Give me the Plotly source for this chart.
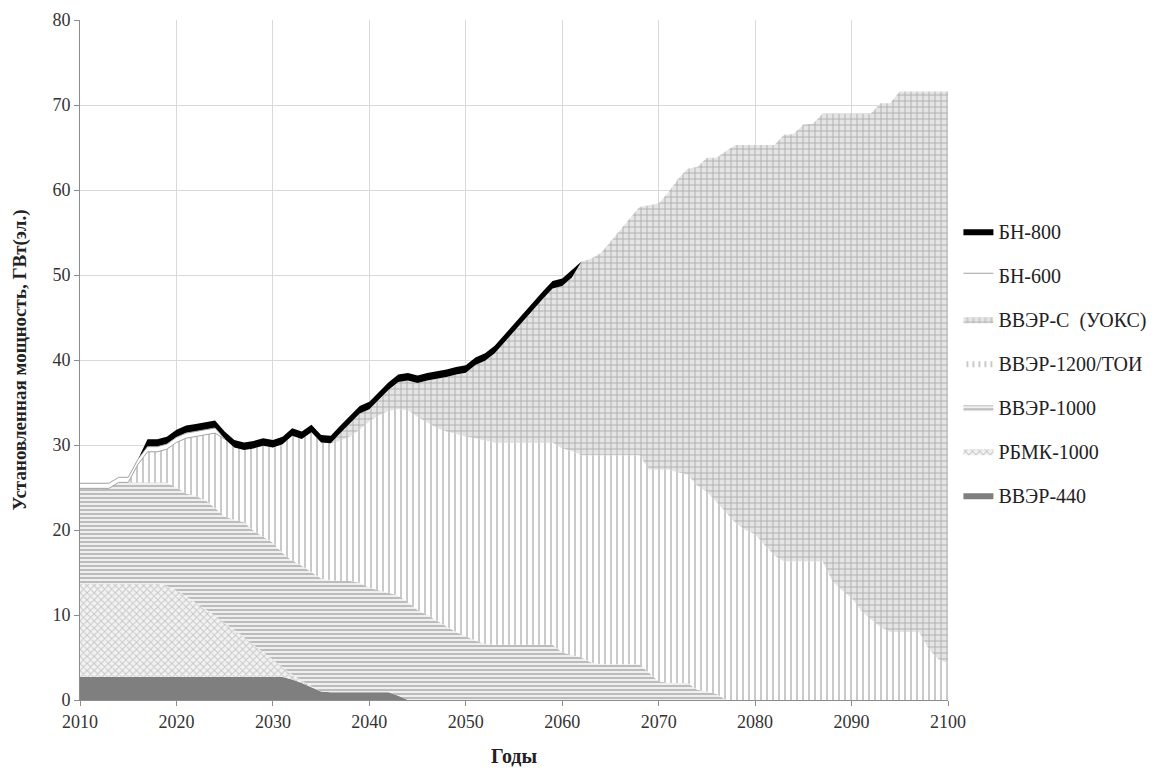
import plotly.graph_objects as go

years = list(range(2010, 2101))

vver440 = [2.7, 2.7, 2.7, 2.7, 2.7, 2.7, 2.7, 2.7, 2.7, 2.7,
           2.7, 2.7, 2.7, 2.7, 2.7, 2.7, 2.7, 2.7, 2.7, 2.7,
           2.7, 2.7, 2.4, 2.0, 1.5, 1.0, 0.9, 0.9, 0.9, 0.9,
           0.9, 0.9, 0.9, 0.5, 0, 0, 0, 0, 0, 0,
           0, 0, 0, 0, 0, 0, 0, 0, 0, 0,
           0, 0, 0, 0, 0, 0, 0, 0, 0, 0,
           0, 0, 0, 0, 0, 0, 0, 0, 0, 0,
           0, 0, 0, 0, 0, 0, 0, 0, 0, 0,
           0, 0, 0, 0, 0, 0, 0, 0, 0, 0, 0]

rbmk = [11.0, 11.0, 11.0, 11.0, 11.0, 11.0, 11.0, 11.0, 11.0, 10.7,
        10.2, 9.5, 8.8, 8.0, 7.2, 6.4, 5.6, 4.7, 3.8, 2.9,
        2.0, 1.1, 0.6, 0.3, 0.1, 0, 0, 0, 0, 0,
        0, 0, 0, 0, 0, 0, 0, 0, 0, 0,
        0, 0, 0, 0, 0, 0, 0, 0, 0, 0,
        0, 0, 0, 0, 0, 0, 0, 0, 0, 0,
        0, 0, 0, 0, 0, 0, 0, 0, 0, 0,
        0, 0, 0, 0, 0, 0, 0, 0, 0, 0,
        0, 0, 0, 0, 0, 0, 0, 0, 0, 0, 0]

vver1000 = [11.2, 11.2, 11.2, 11.2, 11.9, 11.9, 11.9, 11.9, 11.9, 12.2,
            12.1, 12.1, 12.5, 12.8, 12.7, 12.5, 12.9, 13.5, 13.4, 13.6,
            13.8, 13.5, 13.4, 13.5, 13.4, 13.3, 13.2, 13.1, 13.1, 12.9,
            12.3, 12.0, 11.7, 11.8, 11.5, 10.6, 10.0, 9.3, 8.6, 8.0,
            7.5, 7.0, 6.6, 6.5, 6.5, 6.5, 6.5, 6.5, 6.5, 6.5,
            5.6, 5.3, 5.0, 4.4, 4.2, 4.2, 4.2, 4.2, 4.2, 3.2,
            2.2, 2.0, 2.0, 2.0, 1.2, 1.0, 0.7, 0, 0, 0,
            0, 0, 0, 0, 0, 0, 0, 0, 0, 0,
            0, 0, 0, 0, 0, 0, 0, 0, 0, 0, 0]

vver1200 = [0, 0, 0, 0, 0, 0, 2.1, 3.6, 3.6, 3.9,
            5.3, 6.5, 7.0, 7.7, 8.8, 9.1, 8.5, 8.5, 9.7, 10.7,
            11.2, 12.8, 14.7, 14.9, 16.5, 16.0, 16.1, 16.5, 17.0, 18.0,
            19.6, 20.6, 21.4, 21.9, 22.6, 22.7, 22.6, 22.7, 23.0, 23.3,
            23.5, 23.8, 23.9, 23.8, 23.8, 23.8, 23.8, 23.8, 23.8, 23.8,
            24.0, 24.0, 23.8, 24.4, 24.6, 24.6, 24.6, 24.6, 24.6, 23.9,
            24.9, 25.1, 24.8, 24.5, 24.0, 23.5, 22.6, 22.0, 20.8, 20.0,
            19.5, 18.2, 17.0, 16.3, 16.3, 16.3, 16.3, 16.3, 14.0, 12.9,
            12.0, 10.5, 9.5, 8.6, 8.0, 8.0, 8.0, 8.0, 6.0, 4.8, 4.3]

vver_s = [0, 0, 0, 0, 0, 0, 0, 0, 0, 0,
          0, 0, 0, 0, 0, 0, 0, 0, 0, 0,
          0, 0, 0, 0, 0, 0, 0, 0.9, 1.6, 1.9,
          1.4, 1.9, 2.5, 3.2, 3.5, 4.0, 5.0, 5.8, 6.4, 7.0,
          7.5, 8.6, 9.4, 10.5, 11.8, 13.1, 14.4, 15.6, 16.9, 18.1,
          19.1, 20.4, 22.8, 23.1, 23.8, 25.1, 26.5, 27.9, 29.2, 31.1,
          31.3, 32.6, 34.5, 36.0, 37.5, 39.3, 40.5, 42.6, 44.5, 45.3,
          45.8, 47.1, 48.3, 50.2, 50.3, 51.4, 51.5, 52.7, 55.0, 56.1,
          57.0, 58.5, 59.5, 61.6, 62.2, 63.6, 63.6, 63.6, 65.6, 66.8, 67.3]

bn600_years = list(range(2010, 2026))
bn600 = [0.6, 0.6, 0.6, 0.6, 0.6, 0.6, 0.6, 0.6, 0.6, 0.6,
         0.6, 0.6, 0.6, 0.6, 0.6, 0]

bn800_years = list(range(2016, 2063))
bn800 = [0, 0.88, 0.88, 0.88, 0.88, 0.88, 0.88, 0.88, 0.88, 0.88,
         0.88, 0.88, 0.88, 0.88, 0.88, 0.88, 0.88, 0.88, 0.88, 0.88,
         0.88, 0.88, 0.88, 0.88, 0.88, 0.88, 0.88, 0.88, 0.88, 0.88,
         0.88, 0.88, 0.88, 0.88, 0.88, 0.88, 0.88, 0.88, 0.88, 0.88,
         0.88, 0.88, 0.88, 0.88, 0.88, 0.88, 0]

x_ticks = list(range(2010, 2101, 10))
y_ticks = list(range(0, 81, 10))

font_family = "Liberation Serif, Times New Roman, serif"

fig = go.Figure()

def add_area(name, xs, vals, rank, showlegend=True, **style):
    fig.add_trace(go.Scatter(
        x=xs, y=vals, name=name, mode="lines", stackgroup="one",
        legendgroup=name, legendrank=rank, showlegend=showlegend,
        line=dict(width=0, color=style.pop("linecolor", "#888888")), **style))

add_area("ВВЭР-440", years, vver440, 7, fillcolor="#7f7f7f", linecolor="#7f7f7f")
add_area("РБМК-1000", years, rbmk, 6, fillcolor="#e0e0e0",
         fillpattern=dict(shape="x", size=5, solidity=0.35, fgcolor="#9a9a9a", bgcolor="#f2f2f2"),
         linecolor="#9a9a9a")
add_area("ВВЭР-1000", years, vver1000, 5, fillcolor="#e8e8e8",
         fillpattern=dict(shape="-", size=4, solidity=0.5, fgcolor="#8a8a8a", bgcolor="#efefef"),
         linecolor="#8a8a8a")
add_area("ВВЭР-1200/ТОИ", years, vver1200, 4, fillcolor="#ffffff",
         fillpattern=dict(shape="|", size=6, solidity=0.3, fgcolor="#888888", bgcolor="#ffffff"),
         linecolor="#888888")
add_area("ВВЭР-С  (УОКС)", years, vver_s, 3, fillcolor="#e0e0e0",
         fillpattern=dict(shape="+", size=6, solidity=0.28, fgcolor="#747474", bgcolor="#e4e4e4"),
         linecolor="#747474")
add_area("БН-600", bn600_years, bn600, 2, showlegend=False, fillcolor="#ffffff",
         linecolor="#a0a0a0")
add_area("БН-800", bn800_years, bn800, 1, fillcolor="#000000", linecolor="#000000")

# outline of the БН-600 band (Excel draws area borders), built from the stacked data
lower_stack = [vver440, rbmk, vver1000, vver1200, vver_s]
bn600_bottom = [sum(s[years.index(y)] for s in lower_stack) for y in bn600_years]
bn600_top = [b + v for b, v in zip(bn600_bottom, bn600)]
fig.add_trace(go.Scatter(
    x=bn600_years + bn600_years[::-1], y=bn600_top + bn600_bottom[::-1],
    name="БН-600", mode="lines", fill="toself", fillcolor="#ffffff",
    line=dict(width=1, color="#a0a0a0"), legendgroup="БН-600", legendrank=2,
    showlegend=True, hoverinfo="skip"))

fig.update_layout(
    width=1165, height=761,
    paper_bgcolor="white", plot_bgcolor="white",
    margin=dict(l=72, r=225, t=12, b=69),
    font=dict(family=font_family, size=18, color="#333333"),
    showlegend=True,
    legend=dict(x=1.012, y=0.718, xanchor="left", yanchor="top",
                traceorder="grouped", tracegroupgap=15,
                font=dict(family=font_family, size=20, color="#222222"),
                itemwidth=30, bgcolor="rgba(0,0,0,0)"),
    xaxis=dict(range=[2010, 2100], tickvals=x_ticks, ticktext=[str(v) for v in x_ticks],
               showgrid=True, gridcolor="#d9d9d9", gridwidth=1,
               showline=True, linecolor="#8c8c8c", linewidth=1,
               ticks="outside", ticklen=5, tickcolor="#8c8c8c",
               zeroline=False, automargin=False,
               title=dict(text="<b>Годы</b>", font=dict(family=font_family, size=20, color="#222222"),
                          standoff=18),
               tickfont=dict(family=font_family, size=18, color="#333333")),
    yaxis=dict(range=[0, 80], tickvals=y_ticks,
               showgrid=True, gridcolor="#d9d9d9", gridwidth=1,
               showline=True, linecolor="#8c8c8c", linewidth=1,
               ticks="outside", ticklen=5, tickcolor="#8c8c8c",
               zeroline=False, automargin=False,
               title=dict(text="<b>Установленная мощность, ГВт(эл.)</b>",
                          font=dict(family=font_family, size=19, color="#222222"),
                          standoff=20),
               tickfont=dict(family=font_family, size=18, color="#333333")),
)

fig.write_html("out.html")
